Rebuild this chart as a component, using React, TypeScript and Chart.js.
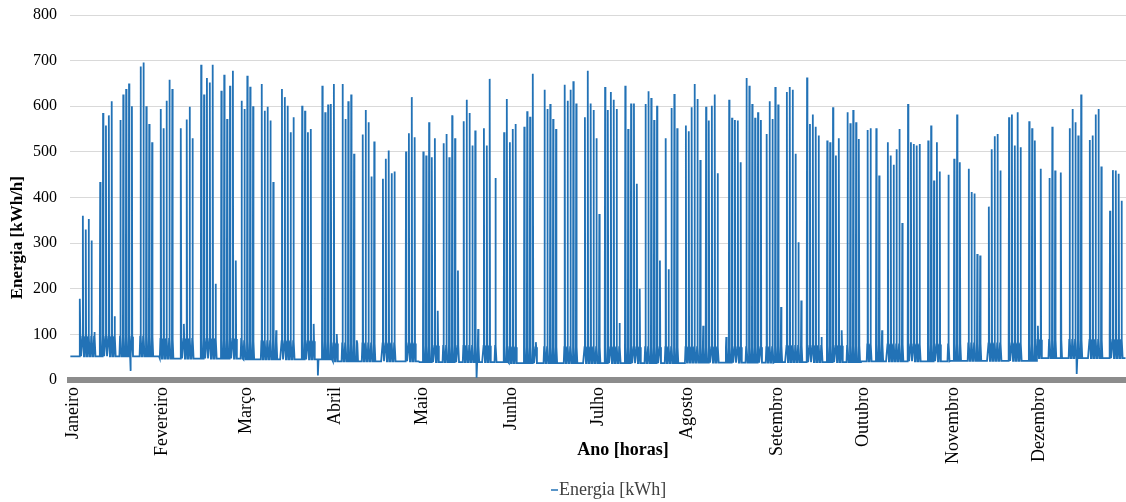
import React, { useEffect, useRef } from 'react';
import { Chart, registerables } from 'chart.js';

Chart.register(...registerables);

// ---- Data (2016, hourly axis; daily peak values) ----
const monthNames = ['Janeiro', 'Fevereiro', 'Março', 'Abril', 'Maio', 'Junho', 'Julho', 'Agosto', 'Setembro', 'Outubro', 'Novembro', 'Dezembro'];
const monthStartDay = [0, 31, 60, 91, 121, 152, 182, 213, 244, 274, 305, 335];
const hoursInYear = 8784;
const yTicksMax = 800;
const yStep = 100;

// daily peak [kWh/h]; null = no working-day peak
const peaksJan = [null, null, null, 178, 360, 330, 353, 306, 105, null, 434, 585, 558, 580, 611, 140, null, 570, 626, 638, 650, 600, null, null, 687, 696, 600, 561, 521, null, null];
const peaksFeb = [594, 552, 612, 658, 638, null, null, 552, 123, 571, 599, 530, null, null, 691, 626, 662, 652, 691, 211, null, 634, 669, 572, 645, 678, 262, null, 612];
const peaksMar = [594, 667, 643, 600, null, null, 649, 590, 599, 569, 434, 109, null, 638, 620, 601, 543, 576, null, null, 601, 590, 543, 550, 123, null, null, 645, 587, 604, 605];
const peaksApr = [649, 101, null, 649, 572, 611, 626, 496, 87, null, 538, 592, 565, 446, 523, null, null, 441, 485, 503, 453, 457, null, null, null, 501, 541, 620, 532, null];
const peaksMay = [null, 501, 492, 565, 488, 530, 152, null, 519, 539, 488, 580, 530, 240, null, 567, 614, 585, 514, 547, 112, null, 552, 514, 660, null, 443, null, null, 543, 616];
const peaksJun = [521, 550, 561, null, null, 555, 589, 577, 671, 83, null, null, 636, 594, 605, 572, 550, null, null, 647, 612, 636, 655, 606, null, null, 576, 678, 606, 592];
const peaksJul = [530, 364, null, 642, 592, 631, 614, 594, 125, null, 645, 550, 606, 606, 430, 200, null, 605, 633, 618, 570, 601, 262, null, 530, 243, 596, 627, 552, null, null];
const peaksAug = [558, 545, 598, 649, 616, 482, 119, 599, 569, 601, 626, 453, null, null, 94, 614, 575, 570, 569, 477, null, 662, 645, 605, 575, 587, 570, null, 539, 611, 572];
const peaksSep = [642, 604, 160, null, 631, 642, 636, 496, 302, 174, null, 663, 561, 582, 555, 536, 94, null, 525, 521, 598, 492, 530, 109, null, 587, 563, 592, 565, 528];
const peaksOct = [null, null, 548, 552, null, 552, 448, 109, null, 521, 492, 472, 506, 550, 344, null, 605, 521, 517, 514, 517, null, null, 525, 558, 437, 521, 457, null, null, 450];
const peaksNov = [null, 485, 582, 477, null, null, 463, 412, 409, 276, 273, null, null, 380, 506, 534, 539, 459, null, null, 576, 582, 514, 587, 510, null, null, 567, 552, 525];
const peaksDec = [119, 463, null, null, 443, 555, 459, null, 455, null, null, 552, 594, 565, 536, 626, null, null, 526, 536, 582, 594, 468, null, null, 371, 460, 459, 452, 393, null];

// night / weekend level per month [kWh/h]
const baseLevel = [52, 47, 45, 41, 39, 37, 37, 38, 39, 41, 42, 48];
// daytime level around the peak on working days [kWh/h]
const dayLevel = [95, 90, 85, 80, 75, 72, 72, 72, 75, 78, 80, 88];

// isolated low readings (day of year, value)
const dipDays = [20, 85, 140, 348];
const dipValues = [20, 10, 5, 13];

const monthlyPeaks = [peaksJan, peaksFeb, peaksMar, peaksApr, peaksMay, peaksJun, peaksJul, peaksAug, peaksSep, peaksOct, peaksNov, peaksDec];

const seriesLabel = 'Energia [kWh]';
const xTitle = 'Ano [horas]';
const yTitle = 'Energia [kWh/h]';
const lineColor = '#2272b6';
const FONT = "'Liberation Serif', 'Times New Roman', serif";

function buildPoints() {
  const pts: { x: number; y: number }[] = [];
  monthlyPeaks.forEach((arr, m) => {
    arr.forEach((peak, i) => {
      const day = monthStartDay[m] + i;
      const h = day * 24;
      const base = baseLevel[m];
      pts.push({ x: h + 3, y: base });
      if (peak !== null) {
        pts.push({ x: h + 8, y: dayLevel[m] });
        pts.push({ x: h + 11, y: peak });
        pts.push({ x: h + 14, y: dayLevel[m] });
      }
      pts.push({ x: h + 20, y: base });
      const di = dipDays.indexOf(day);
      if (di >= 0) pts.push({ x: h + 22, y: dipValues[di] });
    });
  });
  return pts;
}

const annotationsPlugin = {
  id: 'customTitles',
  afterDraw(chart: any) {
    const { ctx, chartArea } = chart;
    ctx.save();
    ctx.fillStyle = '#000';
    ctx.font = `bold 18px ${FONT}`;
    ctx.textAlign = 'center';
    ctx.textBaseline = 'middle';
    // x title
    ctx.fillText(xTitle, chartArea.left + chartArea.width * 0.5237, chartArea.bottom + 70);
    // y title
    ctx.save();
    ctx.font = `bold 17px ${FONT}`;
    ctx.translate(18, chartArea.top + (chartArea.bottom - chartArea.top) * 0.61);
    ctx.rotate(-Math.PI / 2);
    ctx.fillText(yTitle, 0, 0);
    ctx.restore();
    // legend
    const lx = chartArea.left + chartArea.width * 0.4555;
    const ly = chartArea.bottom + 110;
    ctx.strokeStyle = lineColor;
    ctx.lineWidth = 1.5;
    ctx.beginPath();
    ctx.moveTo(lx, ly);
    ctx.lineTo(lx + 7, ly);
    ctx.stroke();
    ctx.font = `18px ${FONT}`;
    ctx.fillStyle = '#404040';
    ctx.textAlign = 'left';
    ctx.fillText(seriesLabel, lx + 8, ly);
    ctx.restore();
  },
};

export default function App() {
  const ref = useRef<HTMLCanvasElement>(null);
  useEffect(() => {
    document.body.style.margin = '0';
    const chart = new Chart(ref.current!, {
      type: 'line',
      data: {
        datasets: [
          {
            label: seriesLabel,
            data: buildPoints(),
            borderColor: lineColor,
            backgroundColor: lineColor,
            borderWidth: 1.8,
            pointRadius: 0,
            tension: 0,
          },
        ],
      },
      options: {
        animation: false,
        responsive: true,
        maintainAspectRatio: false,
        parsing: false,
        normalized: true,
        layout: { padding: { left: 8, top: 15, right: 0, bottom: 0 } },
        plugins: { legend: { display: false }, tooltip: { enabled: false } },
        scales: {
          x: {
            type: 'linear',
            min: 0,
            max: hoursInYear,
            afterFit: (s: any) => { s.height = 122; },
            afterBuildTicks: (s: any) => { s.ticks = monthStartDay.map((d) => ({ value: d * 24 })); },
            grid: { display: false, drawTicks: false },
            border: { display: true, color: '#8c8c8c', width: 6 },
            ticks: {
              autoSkip: false,
              minRotation: 90,
              maxRotation: 90,
              padding: 7,
              labelOffset: 3,
              color: '#000',
              font: { family: FONT, size: 18 },
              callback: (v: any) => monthNames[monthStartDay.indexOf(Math.round(v / 24))],
            },
          },
          y: {
            min: 0,
            max: yTicksMax,
            afterFit: (s: any) => { s.width = 62; },
            grid: { color: '#d9d9d9', lineWidth: 1, drawTicks: true, tickLength: 13, tickColor: 'rgba(0,0,0,0)' },
            border: { display: false },
            ticks: {
              stepSize: yStep,
              padding: 0,
              color: '#000',
              font: { family: FONT, size: 16 },
            },
          },
        },
      },
      plugins: [annotationsPlugin],
    });
    return () => chart.destroy();
  }, []);
  return (
    <div style={{ width: '1126px', height: '502px', position: 'relative' }}>
      <canvas ref={ref} />
    </div>
  );
}
